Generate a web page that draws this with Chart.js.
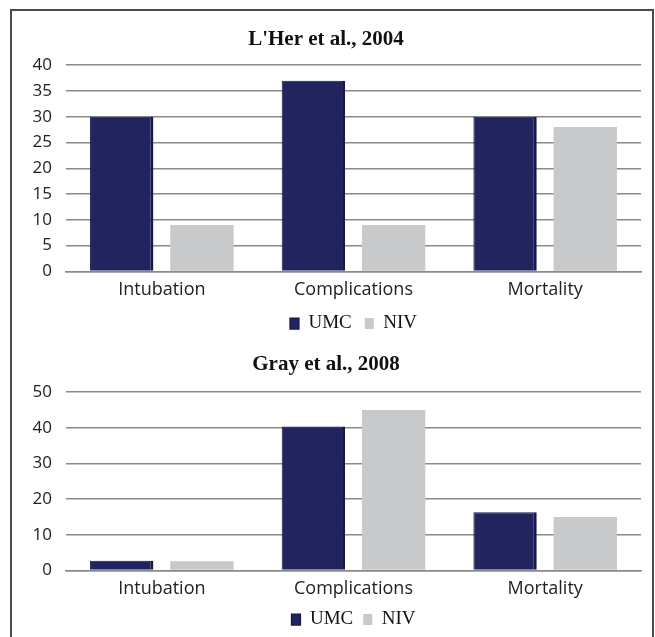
<!DOCTYPE html>
<html>
<head>
<meta charset="utf-8">
<script src="https://cdn.jsdelivr.net/npm/chart.js@4.4.1/dist/chart.umd.min.js"></script>
<style>
    html, body { margin: 0; padding: 0; background: #fff; }
    body { width: 655px; height: 637px; position: relative; overflow: hidden; }
    #frame {
        position: absolute; left: 10px; top: 9px; width: 640px; height: 640px;
        border: 2px solid #4a4a4a; box-sizing: content-box;
    }
    .box { position: absolute; left: 11px; width: 641px; }
    #top { top: 10px; height: 333px; }
    #bottom { top: 343px; height: 296px; }
</style>
</head>
<body>
<div id="frame"></div>
<div class="box" id="top"><canvas id="chartTop"></canvas></div>
<div class="box" id="bottom"><canvas id="chartBottom"></canvas></div>
<script>
/* =========================
   DATA
========================= */
const categories = ["Intubation", "Complications", "Mortality"];
const seriesNames = ["UMC", "NIV"];

const lherTitle = "L'Her et al., 2004";
const lherUMC = [30, 37, 30];
const lherNIV = [9, 9, 28];

const grayTitle = "Gray et al., 2008";
const grayUMC = [2.7, 40.4, 16.3];
const grayNIV = [2.6, 45, 15];

const UMC_COLOR = "#222460";
const NIV_COLOR = "#c8c9ca";

/* =========================
   CHART BUILDER
========================= */
function makeChart(id, title, umc, niv, yMax, yStep, pad) {
    return new Chart(document.getElementById(id), {
        type: "bar",
        data: {
            labels: categories,
            datasets: [
                {
                    label: seriesNames[0],
                    data: umc,
                    backgroundColor: UMC_COLOR,
                    borderColor: "#17184a",
                    borderWidth: { left: 1, right: 3, top: 1, bottom: 0 },
                    borderSkipped: false
                },
                {
                    label: seriesNames[1],
                    data: niv,
                    backgroundColor: NIV_COLOR
                }
            ]
        },
        options: {
            responsive: true,
            maintainAspectRatio: false,
            animation: false,
            categoryPercentage: 0.837,
            barPercentage: 0.79,
            layout: { padding: { left: 0, right: 11, top: pad.top, bottom: 0 } },
            plugins: {
                title: {
                    display: true,
                    text: title,
                    color: "#111",
                    font: { family: "'Liberation Serif', serif", size: 21, weight: "bold" },
                    padding: { top: 0, bottom: pad.title }
                },
                legend: {
                    position: "bottom",
                    fullSize: false,
                    labels: {
                        color: "#111",
                        boxWidth: 9,
                        boxHeight: 11,
                        padding: pad.legend,
                        font: { family: "'Liberation Serif', serif", size: 19 }
                    }
                },
                tooltip: { enabled: false }
            },
            scales: {
                x: {
                    grid: { display: false },
                    border: { display: true, color: "#8a8a8a", width: 1.5 },
                    ticks: {
                        color: "#222",
                        padding: 0,
                        font: { family: "'Open Sans', sans-serif", size: 18 }
                    }
                },
                y: {
                    min: 0,
                    max: yMax,
                    afterFit: (scale) => { scale.width = 55; },
                    grid: { color: "#8a8a8a", lineWidth: 1.5, drawTicks: false },
                    border: { display: false },
                    ticks: {
                        stepSize: yStep,
                        color: "#222",
                        padding: 14,
                        font: { family: "'Open Sans', sans-serif", size: 17 }
                    }
                }
            }
        }
    });
}

makeChart("chartTop", lherTitle, lherUMC, lherNIV, 40, 5, { top: 17, title: 13, legend: 13 });
makeChart("chartBottom", grayTitle, grayUMC, grayNIV, 50, 10, { top: 9, title: 15, legend: 10 });
</script>
</body>
</html>
